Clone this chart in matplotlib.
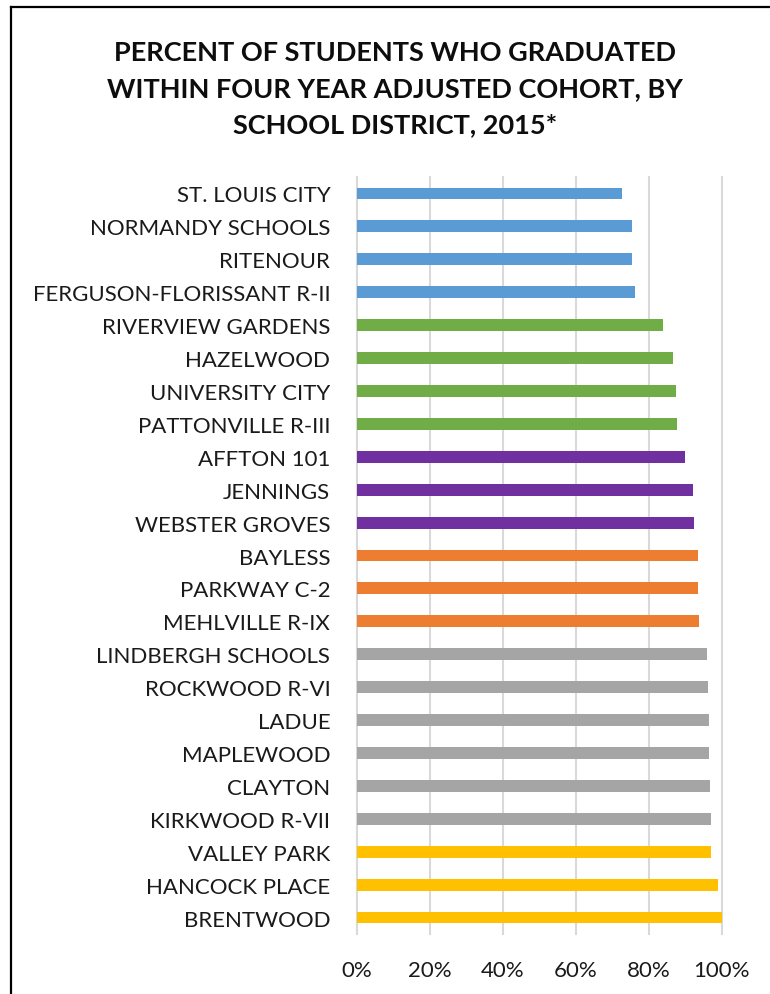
import matplotlib
matplotlib.use('Agg')
import matplotlib.pyplot as plt
from matplotlib.lines import Line2D
from matplotlib.ticker import PercentFormatter

districts = ['ST. LOUIS CITY', 'NORMANDY SCHOOLS', 'RITENOUR', 'FERGUSON-FLORISSANT R-II',
             'RIVERVIEW GARDENS', 'HAZELWOOD', 'UNIVERSITY CITY', 'PATTONVILLE R-III',
             'AFFTON 101', 'JENNINGS', 'WEBSTER GROVES',
             'BAYLESS', 'PARKWAY C-2', 'MEHLVILLE R-IX',
             'LINDBERGH SCHOOLS', 'ROCKWOOD R-VI', 'LADUE', 'MAPLEWOOD', 'CLAYTON', 'KIRKWOOD R-VII',
             'VALLEY PARK', 'HANCOCK PLACE', 'BRENTWOOD']
grad_rate = [72.6, 75.3, 75.4, 76.3,
             83.9, 86.6, 87.4, 87.7,
             89.9, 92.1, 92.3,
             93.4, 93.4, 93.7,
             95.9, 96.2, 96.4, 96.4, 96.7, 97.0,
             97.0, 98.9, 100.0]
group = ['blue'] * 4 + ['green'] * 4 + ['purple'] * 3 + ['orange'] * 3 + ['gray'] * 6 + ['yellow'] * 3
palette = {'blue': '#5B9BD5', 'green': '#70AD47', 'purple': '#7030A0',
           'orange': '#ED7D31', 'gray': '#A5A5A5', 'yellow': '#FFC000'}

plt.rcParams['font.family'] = ['Lato', 'DejaVu Sans']

fig = plt.figure(figsize=(7.7, 9.95), dpi=100)
ax = fig.add_axes([0.4632, 0.0603, 0.4741, 0.7608])

ypos = list(range(len(districts)))
ax.barh(ypos, grad_rate, height=0.36, color=[palette[g] for g in group], zorder=3)

ax.set_xlim(0, 100)
ax.set_ylim(len(districts) - 0.5, -0.5)
ax.set_xticks([0, 20, 40, 60, 80, 100])
ax.xaxis.set_major_formatter(PercentFormatter(decimals=0))
ax.set_yticks(ypos)
ax.set_yticklabels(districts)
ax.tick_params(axis='both', length=0, colors='#1a1a1a', labelsize=16)
ax.tick_params(axis='y', pad=19)
ax.tick_params(axis='x', pad=19)
for s in ax.spines.values():
    s.set_visible(False)
ax.grid(axis='x', color='#D9D9D9', linewidth=1.5, zorder=0)
ax.grid(axis='y', visible=False)
for gl in ax.get_xgridlines():
    gl.set_clip_on(False)

fig.text(0.513, 0.9105, 'PERCENT OF STUDENTS WHO GRADUATED\nWITHIN FOUR YEAR ADJUSTED COHORT, BY\nSCHOOL DISTRICT, 2015*',
         ha='center', va='center', fontsize=19.5, fontweight='bold', color='#0d0d0d', linespacing=1.58)

# frame around the chart (left and top edges visible)
fig.add_artist(Line2D([11 / 770, 11 / 770], [0, 1 - 8 / 995], color='black', linewidth=1.6, transform=fig.transFigure))
fig.add_artist(Line2D([11 / 770, 1], [1 - 8 / 995, 1 - 8 / 995], color='black', linewidth=1.6, transform=fig.transFigure))

fig.savefig('out.png', dpi=100)
